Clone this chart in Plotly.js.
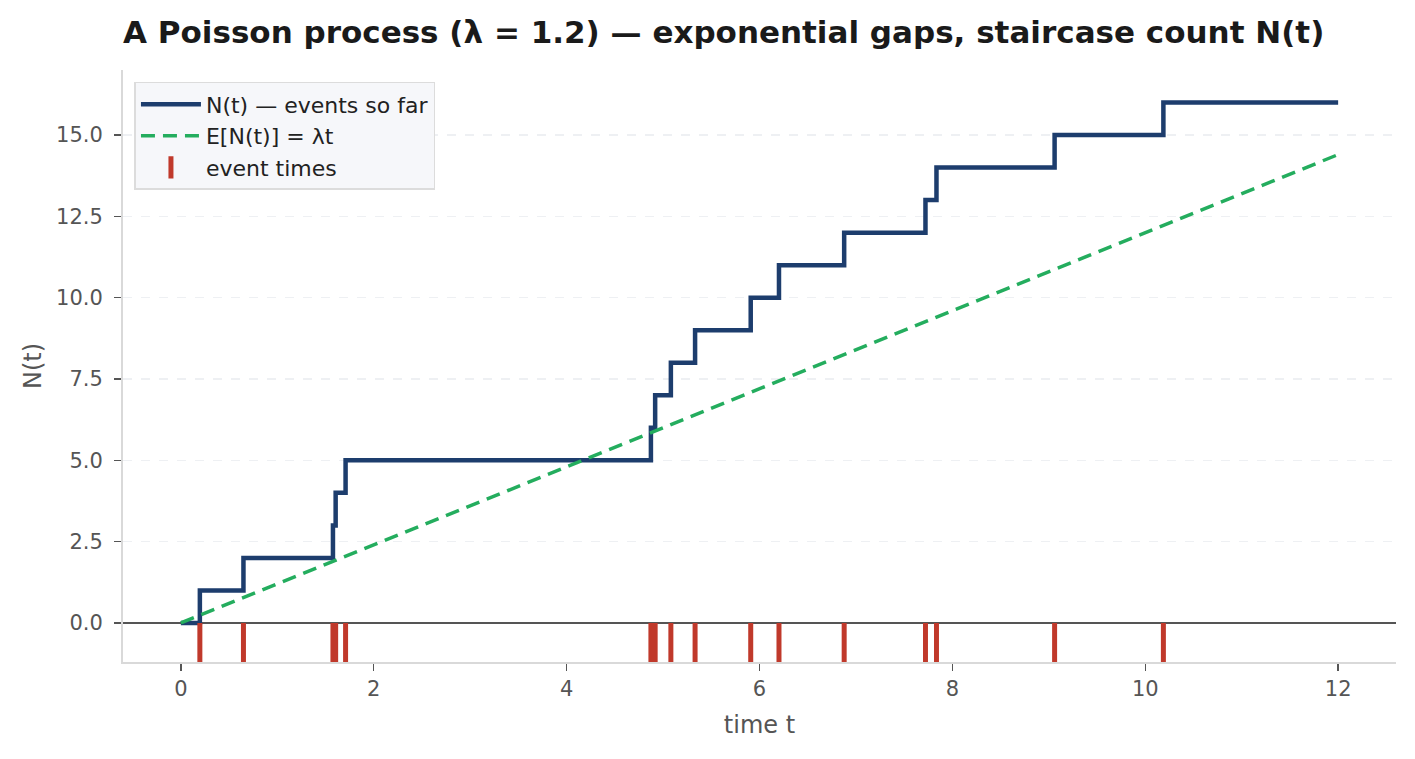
<!DOCTYPE html>
<html>
<head>
<meta charset="utf-8">
<script src="https://cdn.plot.ly/plotly-3.0.1.min.js"></script>
<style>
  html, body { margin: 0; padding: 0; background: #fff; }
  #chart { width: 1415px; height: 759px; }
</style>
</head>
<body>
<div id="chart"></div>
<script>
// параметры процесса
const lambdaRate = 1.2;
const tEnd = 12;
// моменты событий
const eventTimes = [
  0.197, 0.649, 1.577, 1.605, 1.708, 4.874, 4.918, 5.081,
  5.332, 5.909, 6.202, 6.878, 7.721, 7.835, 9.06, 10.188
];
const xTicks = [0, 2, 4, 6, 8, 10, 12];
const tickBottom = -1.2;

// ступенчатая функция N(t)
const stepX = [0, ...eventTimes, tEnd];
const stepY = [0, ...eventTimes.map((_, i) => i + 1), eventTimes.length];

// засечки событий: отрезки от 0 вниз
const rugX = [];
const rugY = [];
eventTimes.forEach((t) => {
  rugX.push(t, t, null);
  rugY.push(0, tickBottom, null);
});

const font = 'DejaVu Sans, sans-serif';

const data = [
  {
    x: stepX,
    y: stepY,
    type: 'scatter',
    mode: 'lines',
    line: { shape: 'hv', color: '#1d3d6d', width: 4.5 },
    name: 'N(t) — events so far',
  },
  {
    x: [0, tEnd],
    y: [0, lambdaRate * tEnd],
    type: 'scatter',
    mode: 'lines',
    line: { color: '#24ad5e', width: 3.5, dash: '14px,8px' },
    name: 'E[N(t)] = λt',
  },
  {
    x: rugX,
    y: rugY,
    type: 'scatter',
    mode: 'lines',
    line: { color: '#c0392b', width: 5 },
    showlegend: false,
    hoverinfo: 'skip',
  },
  {
    // только для легенды
    x: [null],
    y: [null],
    type: 'scatter',
    mode: 'markers',
    marker: { symbol: 'line-ns', size: 16, line: { color: '#c0392b', width: 5 } },
    name: 'event times',
  },
];

const layout = {
  width: 1415,
  height: 759,
  paper_bgcolor: '#fff',
  plot_bgcolor: '#fff',
  font: { family: font, color: '#555', size: 21 },
  title: {
    text: '<b>A Poisson process (λ = 1.2) — exponential gaps, staircase count N(t)</b>',
    font: { family: font, size: 31, color: '#1a1a1a' },
    x: 0,
    xref: 'paper',
    xanchor: 'left',
    yref: 'container',
    y: 0.958,
    yanchor: 'middle',
  },
  margin: { l: 123, r: 19, t: 70, b: 97 },
  xaxis: {
    range: [-0.6, 12.6],
    tickvals: xTicks,
    ticks: 'outside',
    ticklen: 7,
    tickwidth: 1.5,
    tickcolor: '#555',
    showgrid: false,
    zeroline: false,
    showline: true,
    linecolor: '#d9d9d9',
    linewidth: 2,
    tickfont: { size: 21, color: '#555' },
    title: { text: 'time t', font: { size: 24, color: '#555' }, standoff: 16 },
  },
  yaxis: {
    range: [-1.2, 17],
    tick0: 0,
    dtick: 2.5,
    tickformat: '.1f',
    ticks: 'outside',
    ticklen: 7,
    tickwidth: 1.5,
    tickcolor: '#555',
    ticklabelstandoff: 7,
    showgrid: true,
    gridcolor: '#eef0f3',
    griddash: 'dash',
    gridwidth: 1.2,
    zeroline: true,
    zerolinecolor: '#555',
    zerolinewidth: 2,
    showline: true,
    linecolor: '#d9d9d9',
    linewidth: 2,
    tickfont: { size: 21, color: '#555' },
    title: { text: 'N(t)', font: { size: 24, color: '#555' }, standoff: 8 },
  },
  legend: {
    x: 0.009,
    y: 0.98,
    xanchor: 'left',
    yanchor: 'top',
    bgcolor: '#f6f7fa',
    bordercolor: '#dcdcdc',
    borderwidth: 1.5,
    itemwidth: 60,
    font: { size: 22, color: '#222' },
  },
  showlegend: true,
};

Plotly.newPlot('chart', data, layout, { staticPlot: true });
</script>
</body>
</html>
